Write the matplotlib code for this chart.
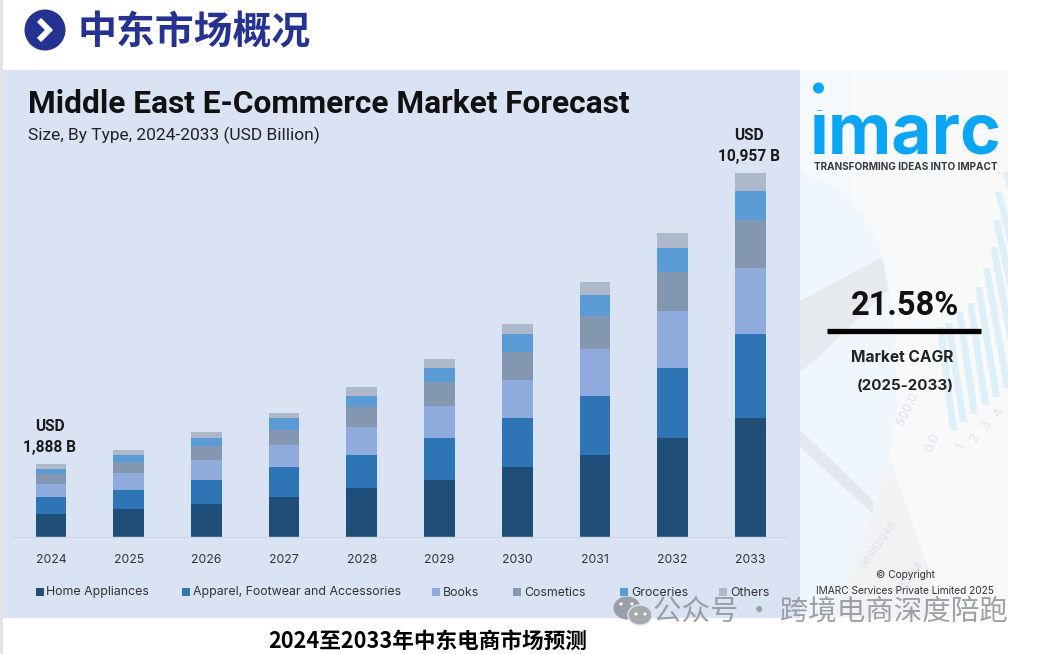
import numpy as np
import matplotlib
matplotlib.use("Agg")
import matplotlib.pyplot as plt
from matplotlib.patches import Rectangle, Circle, Ellipse, Polygon

plt.rcParams['font.family'] = ['Inter', 'Noto Sans CJK SC', 'DejaVu Sans']
CJK = ["Noto Sans CJK SC", "DejaVu Sans"]
NARROW = ["Roboto", "DejaVu Sans"]

# Data (USD billion)
years = ["2024", "2025", "2026", "2027", "2028", "2029", "2030", "2031", "2032", "2033"]
home = [712, 841, 1001, 1217, 1472, 1722, 2104, 2473, 2984, 3576]
apparel = [511, 592, 721, 886, 1013, 1271, 1472, 1782, 2113, 2533]
books = [382, 511, 601, 682, 841, 962, 1142, 1391, 1692, 1983]
cosmetics = [300, 331, 412, 445, 592, 712, 841, 1001, 1172, 1433]
groceries = [159, 210, 261, 346, 340, 430, 550, 640, 721, 880]
others = [129, 129, 159, 171, 249, 249, 291, 370, 460, 550]

series_names = ["Home Appliances", "Apparel, Footwear and Accessories", "Books",
                "Cosmetics", "Groceries", "Others"]
series_values = [home, apparel, books, cosmetics, groceries, others]
series_colors = ["#1F4E79", "#2E75B6", "#8FAADC", "#8497B0", "#5B9BD5", "#ADB9CA"]
end_labels = {0: "USD\n1,888 B", 9: "USD\n10,957 B"}

W, H = 1042, 654
fig = plt.figure(figsize=(W / 100, H / 100), dpi=100, facecolor="white")

# Overlay in pixel coordinates for the slide furniture
bg = fig.add_axes([0, 0, 1, 1], zorder=0)
bg.set_xlim(0, W)
bg.set_ylim(H, 0)
bg.axis("off")

bg.add_patch(Rectangle((0, 0), 3, H, color="#E4E4E4", lw=0))
bg.add_patch(Rectangle((3, 70), 797, 548, color="#DAE3F3", lw=0))

# Right hand panel background
grad = np.linspace(0, 1, 64).reshape(1, -1, 1)
grad = (1 - grad) * np.array([0.965, 0.98, 0.99]) + grad * np.array([0.98, 0.98, 0.98])
bg.imshow(grad, extent=(800, 1008, 618, 70), aspect="auto", zorder=1)
bg.set_xlim(0, W)
bg.set_ylim(H, 0)

bg.add_patch(Polygon([(800, 172), (840, 190), (870, 225), (885, 262), (895, 330), (897, 400),
                      (889, 460), (872, 513), (842, 593), (815, 618), (800, 618)],
                     color="#F0F7FC", lw=0, zorder=2))
bg.add_patch(Polygon([(800, 301), (882, 257), (888, 290), (815, 360), (800, 372)],
                     color="#E6E9ED", lw=0, zorder=3))
bg.add_patch(Polygon([(800, 430), (873, 500), (873, 514), (800, 447)],
                     color="#E3E8EE", lw=0, zorder=3))
bg.add_patch(Polygon([(890, 460), (915, 530), (938, 597), (925, 618), (815, 618), (842, 593), (872, 513)],
                     color="#F0F2F3", lw=0, zorder=3))

# Faint bar chart behind the logo
stripe_tops = [(937, 327), (945, 323), (956, 312), (967, 303), (975, 287), (983, 268),
               (990, 247), (993, 220), (995, 192), (1003, 172)]
stripe_bases = [(950, 430), (960, 422), (971, 414), (982, 405), (993, 397), (1004, 388),
                (1015, 380), (1026, 372), (1037, 363), (1048, 355)]
for top, base in zip(stripe_tops, stripe_bases):
    s = Polygon([top, (top[0] + 7, top[1]), (base[0] + 7, base[1]), base],
                color="#DDF0F9", lw=0, zorder=3)
    bg.add_patch(s)
    s.set_clip_path(Rectangle((800, 70), 208, 548, transform=bg.transData))

for x, y, txt, rot, fs in [(908, 409, "500.0", 65, 9), (933, 443, "0.0", 65, 9),
                           (961, 447, "1", 60, 9), (975, 437, "2", 60, 9),
                           (987, 425, "3", 60, 9), (999, 413, "4", 60, 9),
                           (879, 545, "98982048", 55, 8), (908, 580, "7635714", 50, 8)]:
    bg.text(x, y, txt, rotation=rot, fontsize=fs, color="#DDE3E8", ha="center", va="center", zorder=4)

# Page heading
bg.add_patch(Circle((45, 30), 20.5, color="#263292", lw=0))
bg.plot([39, 49, 39], [20, 30, 40], color="white", lw=4.2, solid_capstyle="butt",
        solid_joinstyle="miter")
bg.text(78, 33, "中东市场概况", fontsize=28, fontweight="bold", color="#263292",
        family=CJK, va="center", ha="left")

# Chart heading
bg.text(28, 104, "Middle East E-Commerce Market Forecast", fontsize=22.8, fontweight="bold",
        color="#111111", family=NARROW, va="center", ha="left")
bg.text(28, 135.5, "Size, By Type, 2024-2033 (USD Billion)", fontsize=12.5, color="#222222",
        family=NARROW, va="center", ha="left")

# Stacked bars
ax = fig.add_axes([12 / W, (H - 537.3) / H, 776 / W, (537.3 - 70) / H], zorder=5)
ax.patch.set_alpha(0)
x = np.arange(len(years))
bottom = np.zeros(len(years))
for vals, color, name in zip(series_values, series_colors, series_names):
    ax.bar(x, vals, width=0.395, bottom=bottom, color=color, label=name)
    bottom += np.array(vals)

for i, label in end_labels.items():
    ax.annotate(label, (x[i], bottom[i]), xytext=(-1, 6.5), textcoords="offset points",
                ha="center", va="bottom", fontsize=11.2, fontweight="bold", color="#1A1A1A",
                family=NARROW, linespacing=1.5)

ax.set_xlim(-0.502, 9.485)
ax.set_ylim(0, 14042)
ax.set_xticks(x)
ax.set_xticklabels(years, fontsize=8.8, color="#333333")
ax.tick_params(axis="x", length=0, pad=12)
ax.set_yticks([])
for side in ["top", "left", "right"]:
    ax.spines[side].set_visible(False)
ax.spines["bottom"].set_color("#CFD6E0")
ax.spines["bottom"].set_linewidth(1)

# Legend, laid out by hand to keep the uneven gaps
legend_x = [35.5, 182, 432, 513, 620, 719]
for lx, name, color in zip(legend_x, series_names, series_colors):
    bg.add_patch(Rectangle((lx, 588), 8, 8, color=color, lw=0, zorder=6))
    bg.text(lx + 11, 592.5, name, fontsize=8.9, color="#333333", va="center", ha="left", zorder=6)

# Logo
logo = bg.text(905, 153, "imarc", fontsize=50, fontweight="bold", color="#0AA5F5",
               ha="center", va="baseline", zorder=6)
logo.set_clip_path(Rectangle((805, 110), 200, 50, transform=bg.transData))
logo.set_clip_on(True)
bg.add_patch(Circle((818.5, 88), 5.5, color="#0AA5F5", lw=0, zorder=6))
bg.text(905.5, 166.5, "TRANSFORMING IDEAS INTO IMPACT", fontsize=7.2, fontweight="bold",
        color="#333A40", ha="center", va="center", zorder=6)

# CAGR block
bg.text(905, 306, "21.58%", fontsize=23.5, fontweight="bold", color="#111111", family=NARROW,
        ha="center", va="center", zorder=6)
bg.plot([827, 981], [331, 331], color="black", lw=3.8, solid_capstyle="butt", zorder=6)
bg.text(902, 357.5, "Market CAGR", fontsize=11.2, fontweight="bold", color="#222222", ha="center",
        va="center", zorder=6)
bg.text(905, 385.5, "(2025-2033)", fontsize=10.9, fontweight="bold", color="#222222", ha="center",
        va="center", zorder=6)
bg.text(905, 575, "© Copyright", fontsize=7.3, color="#333333", ha="center", va="center", zorder=6)
bg.text(905, 591, "IMARC Services Private Limited 2025", fontsize=7.3, color="#333333",
        ha="center", va="center", zorder=6)

# Caption
bg.text(428, 641, "2024至2033年中东电商市场预测", fontsize=15.6, fontweight="bold", color="black",
        family=CJK, ha="center", va="center", zorder=6)

# Watermark
bg.add_patch(Ellipse((627, 608), 27, 23, color="#9A9EA6", lw=0, zorder=7))
bg.add_patch(Ellipse((640, 615), 24, 20, facecolor="#A6A9AE", edgecolor="#DAE3F3", lw=1, zorder=8))
for ex, ey, ez in [(621, 604, 9), (632, 604, 9), (636, 614, 9), (645, 614, 9)]:
    bg.add_patch(Circle((ex, ey), 1.6, color="white", lw=0, zorder=ez))
bg.text(1008, 612, "公众号 · 跨境电商深度陪跑", fontsize=20.5, color="#8E9196", alpha=0.85,
        family=CJK, ha="right", va="center", zorder=9)

fig.savefig("out.png", dpi=100)
